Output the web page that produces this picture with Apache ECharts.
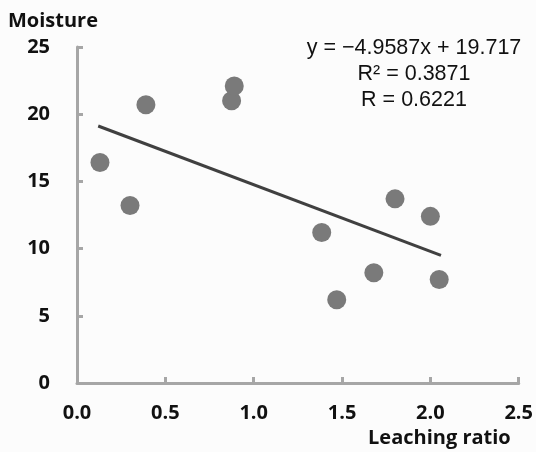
<!DOCTYPE html>
<html>
<head>
<meta charset="utf-8">
<script src="https://cdn.jsdelivr.net/npm/echarts@6/dist/echarts.min.js"></script>
<style>
  html, body { margin: 0; padding: 0; background: #fcfcfc; }
  #chart { width: 536px; height: 452px; }
</style>
</head>
<body>
<div id="chart"></div>
<script>
// leaching ratio vs moisture
const leachingRatio = [0.13, 0.30, 0.39, 0.875, 0.89, 1.385, 1.47, 1.68, 1.80, 2.00, 2.05]
const moisture = [16.4, 13.2, 20.7, 21.0, 22.1, 11.2, 6.2, 8.2, 13.7, 12.4, 7.7]

// linear trend end points
const trendX = [0.12, 2.06]
const trendY = [19.12, 9.50]

const equationLines = ['y = \u22124.9587x + 19.717', 'R\u00b2 = 0.3871', 'R = 0.6221']

const points = leachingRatio.map((x, i) => [x, moisture[i]])
const trend = trendX.map((x, i) => [x, trendY[i]])

const labelFont = {
  fontFamily: '"Open Sans", sans-serif',
  fontWeight: 'bold',
  fontSize: 20,
  color: '#111'
}

const myChart = echarts.init(document.getElementById('chart'))
myChart.setOption({
  backgroundColor: '#fcfcfc',
  animation: false,
  grid: { left: 77, top: 47, right: 15, bottom: 69 },
  xAxis: {
    type: 'value',
    min: 0,
    max: 2.5,
    interval: 0.5,
    name: 'Leaching ratio',
    nameLocation: 'end',
    nameGap: 0,
    nameTextStyle: Object.assign({}, labelFont, {
      align: 'right',
      verticalAlign: 'top',
      padding: [45, 8, 0, 0]
    }),
    axisLine: { lineStyle: { color: '#a6a6a6', width: 3 } },
    axisTick: { inside: true, length: 6, lineStyle: { color: '#a6a6a6', width: 3 } },
    axisLabel: Object.assign({}, labelFont, {
      margin: 20,
      formatter: (v) => v.toFixed(1)
    }),
    splitLine: { show: false }
  },
  yAxis: {
    type: 'value',
    min: 0,
    max: 25,
    interval: 5,
    name: 'Moisture',
    nameLocation: 'end',
    nameGap: 16,
    nameTextStyle: Object.assign({}, labelFont, {
      align: 'left',
      padding: [0, 0, 0, -69]
    }),
    axisLine: { show: true, lineStyle: { color: '#a6a6a6', width: 3 } },
    axisTick: { show: true, inside: true, length: 6, lineStyle: { color: '#a6a6a6', width: 3 } },
    axisLabel: Object.assign({}, labelFont, { margin: 27 }),
    splitLine: { show: false }
  },
  series: [{
    type: 'scatter',
    data: points,
    symbolSize: 19,
    itemStyle: { color: '#7a7a7a', opacity: 1 },
    z: 3
  }, {
    type: 'line',
    data: trend,
    symbol: 'none',
    lineStyle: { color: '#404040', width: 3 },
    z: 4
  }],
  graphic: equationLines.map((t, i) => ({
    type: 'text',
    x: 414,
    y: 48 + i * 26,
    style: {
      text: t,
      fill: '#111',
      font: '21.5px "Liberation Sans", Arial, sans-serif',
      align: 'center',
      verticalAlign: 'middle'
    }
  }))
})
</script>
</body>
</html>
